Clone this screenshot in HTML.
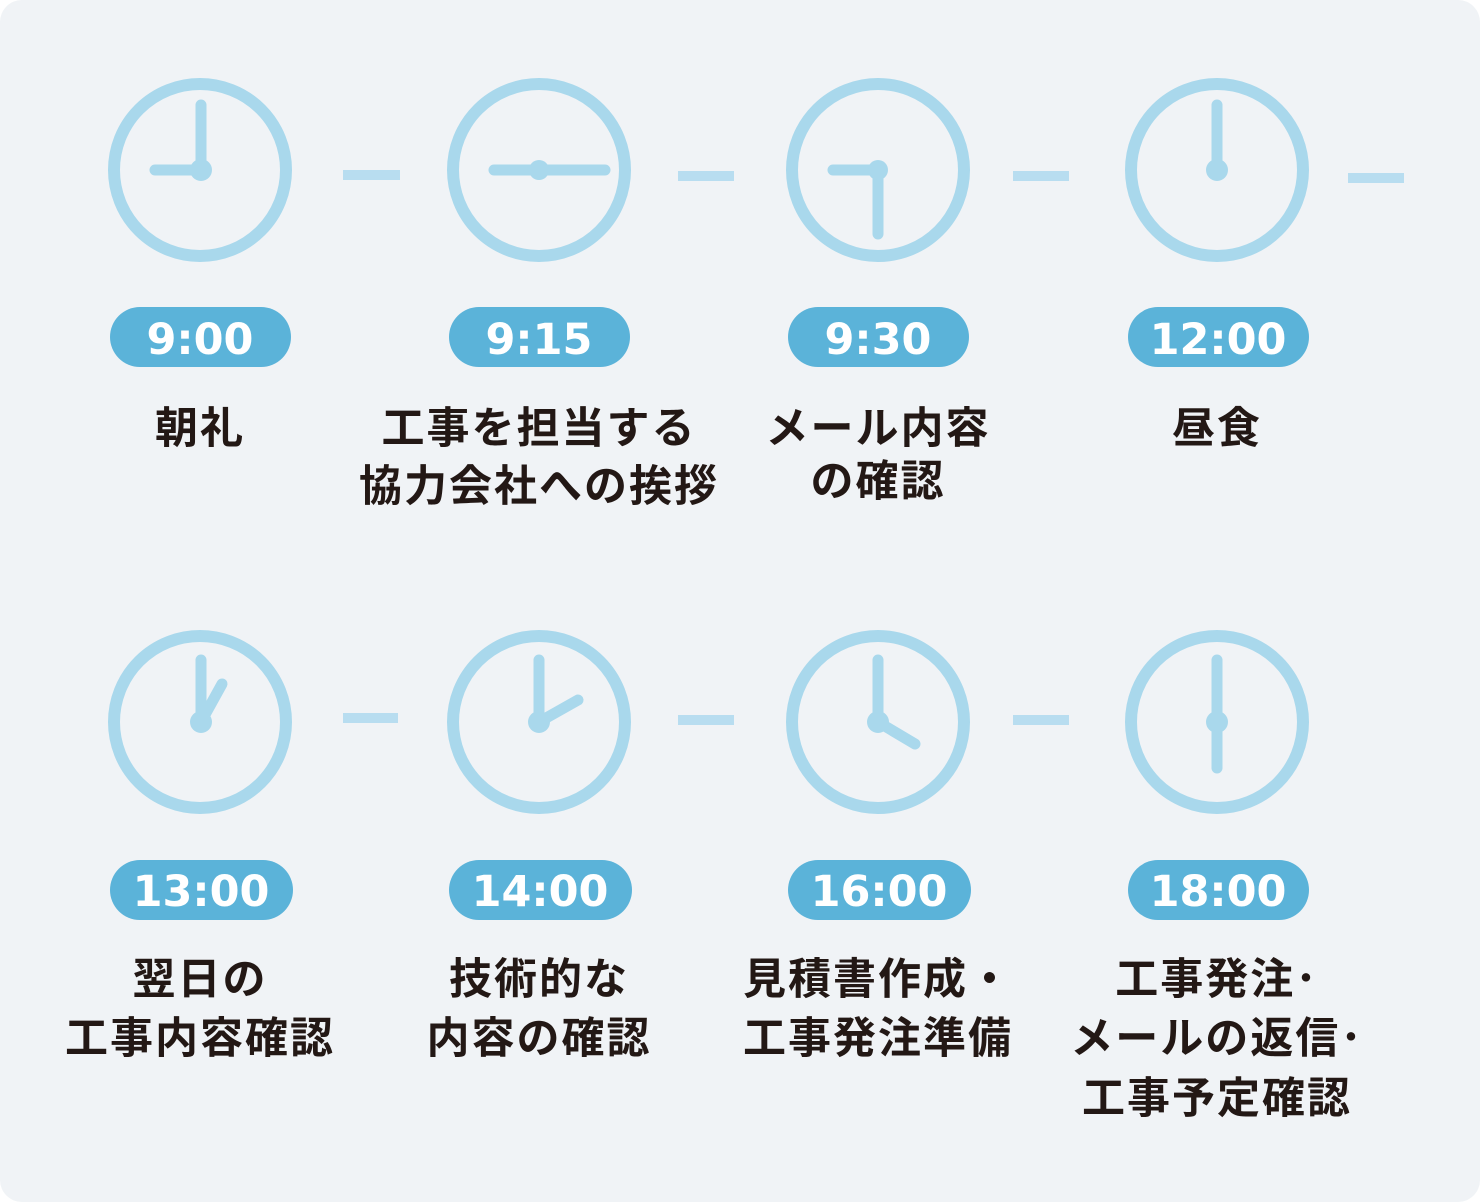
<!DOCTYPE html>
<html><head><meta charset="utf-8"><style>
html,body{margin:0;padding:0;background:#fff;}
svg{display:block;}
text{font-family:"Liberation Sans","Noto Sans CJK JP",sans-serif;font-weight:bold;}
.lbl{fill:#231815;font-size:43px;text-anchor:middle;letter-spacing:2px;}
.t{fill:#fff;font-size:43px;text-anchor:middle;font-family:"DejaVu Sans",sans-serif;}
</style></head><body>
<svg width="1480" height="1202" viewBox="0 0 1480 1202" xmlns="http://www.w3.org/2000/svg">
<rect x="0" y="0" width="1480" height="1202" rx="22" fill="#f0f3f6"/>
<g fill="none" stroke="#a9d8ec" stroke-width="12">
<circle cx="200" cy="170" r="86"/><circle cx="539" cy="170" r="86"/><circle cx="878" cy="170" r="86"/><circle cx="1217" cy="170" r="86"/>
<circle cx="200" cy="722" r="86"/><circle cx="539" cy="722" r="86"/><circle cx="878" cy="722" r="86"/><circle cx="1217" cy="722" r="86"/>
</g>
<g fill="none" stroke="#a9d8ec" stroke-width="11" stroke-linecap="round">
<path d="M201 105V170H155"/>
<path d="M494 170H605"/>
<path d="M833 170H878V234"/>
<path d="M1217 105V170"/>
<path d="M201 660V722M201 722L222 684"/>
<path d="M539 660V722M539 722L578 700"/>
<path d="M878 660V722M878 722L915 744"/>
<path d="M1217 660V768"/>
</g>
<g fill="#a9d8ec">
<circle cx="201" cy="170" r="11"/><circle cx="539" cy="170" r="10"/><circle cx="878" cy="170" r="10"/><circle cx="1217" cy="170" r="11"/>
<circle cx="201" cy="722" r="11"/><circle cx="539" cy="722" r="11"/><circle cx="878" cy="722" r="11"/><circle cx="1217" cy="722" r="11"/>
</g>
<g fill="#b8ddf0">
<rect x="343" y="170" width="57" height="10"/><rect x="678" y="171" width="56" height="10"/><rect x="1013" y="171" width="56" height="10"/><rect x="1348" y="173" width="56" height="10"/>
<rect x="343" y="713" width="55" height="10"/><rect x="678" y="715" width="56" height="10"/><rect x="1013" y="715" width="56" height="10"/>
</g>
<g fill="#5bb3d9">
<rect x="110" y="307" width="181" height="60" rx="30"/><rect x="449" y="307" width="181" height="60" rx="30"/><rect x="788" y="307" width="181" height="60" rx="30"/><rect x="1128" y="307" width="181" height="60" rx="30"/>
<rect x="110" y="860" width="183" height="60" rx="30"/><rect x="449" y="860" width="183" height="60" rx="30"/><rect x="788" y="860" width="183" height="60" rx="30"/><rect x="1128" y="860" width="181" height="60" rx="30"/>
</g>
<text class="t" x="200" y="354">9:00</text><text class="t" x="539" y="354">9:15</text><text class="t" x="878" y="354">9:30</text><text class="t" x="1218" y="354">12:00</text>
<text class="t" x="201" y="906">13:00</text><text class="t" x="540" y="906">14:00</text><text class="t" x="879" y="906">16:00</text><text class="t" x="1218" y="906">18:00</text>
<text class="lbl" x="200" y="443">朝礼</text>
<text class="lbl" x="539" y="443">工事を担当する</text><text class="lbl" x="539" y="501">協力会社への挨拶</text>
<text class="lbl" x="878" y="443">メール内容</text><text class="lbl" x="878" y="496">の確認</text>
<text class="lbl" x="1217" y="443">昼食</text>
<text class="lbl" x="200" y="994">翌日の</text><text class="lbl" x="200" y="1053">工事内容確認</text>
<text class="lbl" x="539" y="994">技術的な</text><text class="lbl" x="539" y="1053">内容の確認</text>
<text class="lbl" x="878" y="994">見積書作成・</text><text class="lbl" x="878" y="1053">工事発注準備</text>
<text class="lbl" x="1217" y="994">工事発注･</text><text class="lbl" x="1217" y="1053">メールの返信･</text><text class="lbl" x="1217" y="1113">工事予定確認</text>
</svg>
</body></html>
